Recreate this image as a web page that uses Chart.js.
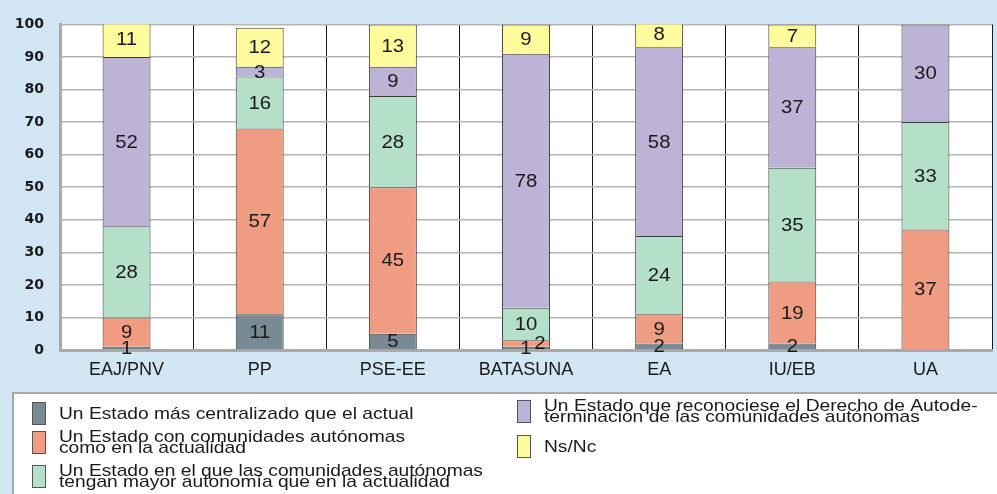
<!DOCTYPE html>
<html>
<head>
<meta charset="utf-8">
<script src="https://cdn.jsdelivr.net/npm/chart.js@4.4.1/dist/chart.umd.min.js"></script>
<style>
  html, body { margin: 0; padding: 0; background: #d2e5f3; }
  #wrap { width: 997px; height: 494px; position: relative; }
</style>
</head>
<body>
<div id="wrap"><canvas id="chart" width="997" height="494"></canvas></div>
<script>
const partidos = ["EAJ/PNV", "PP", "PSE-EE", "BATASUNA", "EA", "IU/EB", "UA"];
const centralizado = [1, 11, 5, 1, 2, 2, 0];
const comoActual = [9, 57, 45, 2, 9, 19, 37];
const mayorAutonomia = [28, 16, 28, 10, 24, 35, 33];
const autodeterminacion = [52, 3, 9, 78, 58, 37, 30];
const nsnc = [11, 12, 13, 9, 8, 7, 0];
const yTicks = [0, 10, 20, 30, 40, 50, 60, 70, 80, 90, 100];

const series = [
  { label: ["Un Estado más centralizado que el actual"], data: centralizado, color: "#788a94" },
  { label: ["Un Estado con comunidades autónomas", "como en la actualidad"], data: comoActual, color: "#ef9c82" },
  { label: ["Un Estado en el que las comunidades autónomas", "tengan mayor autonomía que en la actualidad"], data: mayorAutonomia, color: "#b4dfc8" },
  { label: ["Un Estado que reconociese el Derecho de Autode-", "terminación de las comunidades autónomas"], data: autodeterminacion, color: "#bcb3d6" },
  { label: ["Ns/Nc"], data: nsnc, color: "#fdfb9b" }
];

// the source picture is a bit wider than tall, so text is stretched sideways
const STRETCH = 1.13;

function wideText(ctx, text, x, y) {
  ctx.save();
  ctx.translate(x, y);
  ctx.scale(STRETCH, 1);
  ctx.fillText(text, 0, 0);
  ctx.restore();
}

// white plot area
const plotBg = {
  id: "plotBg",
  beforeDraw(chart) {
    const { ctx, chartArea: a } = chart;
    ctx.save();
    ctx.fillStyle = "#ffffff";
    ctx.fillRect(a.left, a.top, a.right - a.left, a.bottom - a.top);
    ctx.restore();
  }
};

// numbers inside the segments
const segLabels = {
  id: "segLabels",
  afterDatasetsDraw(chart) {
    const ctx = chart.ctx;
    ctx.save();
    ctx.font = "18px 'Liberation Sans', Arial, sans-serif";
    ctx.fillStyle = "#1a1a1a";
    ctx.textAlign = "center";
    ctx.textBaseline = "middle";
    chart.data.datasets.forEach((ds, di) => {
      chart.getDatasetMeta(di).data.forEach((bar, i) => {
        const v = ds.data[i];
        if (!v) return;
        let x = bar.x;
        const y = (bar.y + bar.base) / 2;
        const prev = di > 0 ? chart.data.datasets[di - 1].data[i] : 99;
        if (v <= 2 && prev > 0 && prev <= 2) x += 14;
        wideText(ctx, String(v), x, y + 1);
      });
    });
    ctx.restore();
  }
};

// boxed legend at the bottom, two columns, multi-line labels
const boxLegend = {
  id: "boxLegend",
  afterDraw(chart) {
    const ctx = chart.ctx;
    ctx.save();
    ctx.fillStyle = "#ffffff";
    ctx.fillRect(13, 393, 990, 110);
    ctx.strokeStyle = "#a9a9a9";
    ctx.lineWidth = 2;
    ctx.strokeRect(13, 393, 990, 110);
    const slots = [
      { x: 32, cy: 413 },
      { x: 32, cy: 442 },
      { x: 32, cy: 476 },
      { x: 517, cy: 411 },
      { x: 517, cy: 446 }
    ];
    ctx.font = "17px 'Liberation Sans', Arial, sans-serif";
    ctx.textBaseline = "middle";
    ctx.textAlign = "left";
    chart.data.datasets.forEach((ds, di) => {
      const s = slots[di];
      const h = 22;
      ctx.fillStyle = ds.backgroundColor;
      ctx.fillRect(s.x, s.cy - h / 2, 13, h);
      ctx.strokeStyle = "#555";
      ctx.lineWidth = 1;
      ctx.strokeRect(s.x + 0.5, s.cy - h / 2 + 0.5, 13, h);
      const lines = ds.label;
      const lh = 11.5;
      const top = s.cy - (lines.length - 1) * lh / 2;
      ctx.fillStyle = "#1a1a1a";
      lines.forEach((t, k) => wideText(ctx, t, s.x + 27, top + k * lh + 1));
    });
    ctx.restore();
  }
};

new Chart(document.getElementById("chart"), {
  type: "bar",
  data: {
    labels: partidos,
    datasets: series.map(s => ({
      label: s.label,
      data: s.data,
      backgroundColor: s.color,
      borderColor: "#3c3c3c",
      borderWidth: 1,
      barPercentage: 0.36,
      categoryPercentage: 1.0
    }))
  },
  options: {
    responsive: false,
    animation: false,
    layout: { padding: { top: 19, right: 5, bottom: 100, left: 0 } },
    plugins: { legend: { display: false }, tooltip: { enabled: false } },
    scales: {
      x: {
        stacked: true,
        afterFit: s => { s.height = 44; },
        grid: {
          offset: true,
          drawTicks: false,
          lineWidth: c => (c.index === partidos.length ? 2 : 1),
          color: c => (c.index === 0 ? "rgba(0,0,0,0)" : c.index === partidos.length ? "#b4b4b4" : "#1a1a1a")
        },
        border: { display: true, color: "#a9a9a9", width: 3 },
        ticks: {
          padding: 9,
          color: "#1a1a1a",
          font: { family: "'Liberation Sans', Arial, sans-serif", size: 18 }
        }
      },
      y: {
        stacked: true,
        min: 0,
        max: 100,
        afterFit: s => { s.width = 60; },
        afterBuildTicks: s => { s.ticks = yTicks.map(v => ({ value: v })); },
        grid: { drawTicks: false, color: "#b4b4b4", lineWidth: 1.5 },
        border: { display: true, color: "#a9a9a9", width: 3 },
        ticks: {
          padding: 16,
          color: "#1a1a1a",
          font: { family: "'DejaVu Sans', sans-serif", size: 14, weight: "bold" }
        }
      }
    }
  },
  plugins: [plotBg, segLabels, boxLegend]
});
</script>
</body>
</html>
